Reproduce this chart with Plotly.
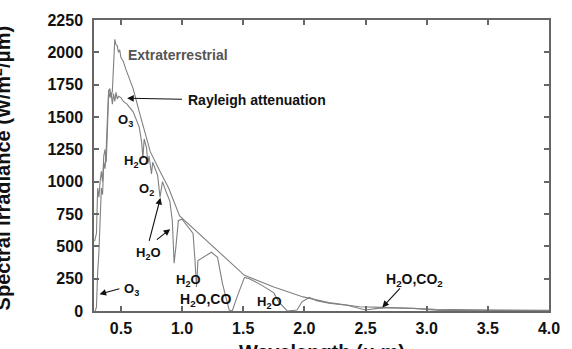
import plotly.graph_objects as go

# ---- data ----
ext_wl = [0.285, 0.30, 0.31, 0.32, 0.33, 0.34, 0.35, 0.36, 0.37, 0.38, 0.39, 0.40, 0.41, 0.42,
          0.43, 0.44, 0.45, 0.46, 0.47, 0.48, 0.49, 0.50, 0.52, 0.54, 0.56, 0.58, 0.60, 0.65,
          0.70, 0.74, 0.82, 0.89, 0.98, 1.13, 1.29, 1.51, 1.75, 1.99, 2.2, 2.45, 2.64, 3.07,
          3.5, 4.0]
ext_val = [540, 600, 950, 880, 1000, 1080, 1000, 1200, 1250, 1150, 1400, 1700, 1720, 1650,
           1700, 1950, 2100, 2060, 2050, 2000, 2020, 1960, 1930, 1870, 1820, 1780, 1720, 1540,
           1360, 1232, 1079, 951, 735, 607, 467, 276, 186, 109, 65, 33, 28, 13,
           8, 5]

gnd_wl = [0.29, 0.30, 0.31, 0.32, 0.33, 0.34, 0.35, 0.36, 0.37, 0.38, 0.39, 0.40, 0.41, 0.42,
          0.43, 0.44, 0.45, 0.46, 0.47, 0.48, 0.50, 0.52, 0.55, 0.58, 0.60, 0.63, 0.65, 0.67,
          0.68, 0.69, 0.71, 0.72, 0.73, 0.75, 0.76, 0.78, 0.80, 0.82, 0.84, 0.87, 0.90, 0.92,
          0.935, 0.95, 0.97, 1.00, 1.05, 1.09, 1.105, 1.118, 1.13, 1.17, 1.24, 1.29, 1.33,
          1.385, 1.41, 1.45, 1.51, 1.55, 1.65, 1.75, 1.79, 1.86, 1.94, 1.98, 2.04, 2.1, 2.2,
          2.35, 2.45, 2.5, 2.6, 2.7, 2.9, 3.0, 3.1, 3.5, 4.0]
gnd_val = [0, 30, 300, 450, 700, 950, 900, 1150, 1100, 1250, 1500, 1710, 1650, 1690,
           1600, 1680, 1620, 1690, 1640, 1660, 1650, 1620, 1600, 1560, 1540, 1470, 1420, 1300,
           1180, 1330, 1260, 1140, 1200, 1060, 1150, 1100, 1050, 880, 1000, 920, 850, 700,
           370, 500, 700, 710, 650, 600, 400, 186, 390, 415, 454, 415, 214,
           8, 0, 109, 260, 250, 200, 140, 71, 0, 8, 71, 105, 80, 60,
           45, 20, 8, 20, 25, 20, 12, 5, 5, 2]

x_ticks = [0.5, 1.0, 1.5, 2.0, 2.5, 3.0, 3.5, 4.0]
y_ticks = [0, 250, 500, 750, 1000, 1250, 1500, 1750, 2000, 2250]

# text labels: (text, x, y, colour)
labels = [
    ("Extraterrestrial", 0.544, 1982, "#555555"),
    ("Rayleigh attenuation", 1.036, 1632, "#111111"),
    ("O<sub>3</sub>", 0.463, 1470, "#111111"),
    ("H<sub>2</sub>O", 0.511, 1155, "#111111"),
    ("O<sub>2</sub>", 0.632, 940, "#111111"),
    ("H<sub>2</sub>O", 0.607, 445, "#111111"),
    ("H<sub>2</sub>O", 0.93, 238, "#111111"),
    ("H<sub>2</sub>O,CO", 0.97, 85, "#111111"),
    ("H<sub>2</sub>O", 1.593, 62, "#111111"),
    ("O<sub>3</sub>", 0.51, 168, "#111111"),
    ("H<sub>2</sub>O,CO<sub>2</sub>", 2.647, 238, "#111111"),
]
# arrows: (tail_x, tail_y, head_x, head_y)
arrows = [
    (1.012, 1637, 0.551, 1645),
    (0.728, 530, 0.823, 875),
    (0.782, 543, 0.903, 633),
    (0.50, 176, 0.325, 130),
    (2.793, 186, 2.637, 28),
]

FONT = "Liberation Sans, Arial, sans-serif"

fig = go.Figure()
fig.add_trace(go.Scatter(x=ext_wl, y=ext_val, mode="lines",
                         line=dict(color="#808080", width=1.1), showlegend=False))
fig.add_trace(go.Scatter(x=gnd_wl, y=gnd_val, mode="lines",
                         line=dict(color="#808080", width=1.1), showlegend=False))

ann = []
for t, x, y, c in labels:
    ann.append(dict(text=t, x=x, y=y, xref="x", yref="y", xanchor="left", yanchor="middle",
                    showarrow=False, font=dict(family=FONT, size=14 if len(t) > 14 else 13,
                                               color=c, weight="bold")))
for tx, ty, hx, hy in arrows:
    ann.append(dict(text="", x=hx, y=hy, ax=tx, ay=ty, xref="x", yref="y", axref="x", ayref="y",
                    showarrow=True, arrowhead=2, arrowsize=1.2, arrowwidth=1.1, arrowcolor="#111111"))
ann.append(dict(text="Wavelength (\u03bc m)", x=0.5, y=0, xref="paper", yref="paper",
                xanchor="center", yanchor="top", yshift=-28, showarrow=False,
                font=dict(family=FONT, size=20, color="#111111", weight="bold")))
ann.append(dict(text="Spectral irradiance (W/m<sup>2</sup>/\u03bcm)", x=0, y=0.49, xref="paper", yref="paper",
                xanchor="center", yanchor="middle", xshift=-93, textangle=-90, showarrow=False,
                font=dict(family=FONT, size=20, color="#111111", weight="bold")))

axis_common = dict(showline=True, linecolor="#666666", linewidth=1.5, mirror="ticks",
                   ticks="inside", ticklen=5, tickwidth=1.5, tickcolor="#666666",
                   showgrid=False, zeroline=False,
                   tickfont=dict(family=FONT, size=16, color="#111111", weight="bold"))

fig.update_layout(
    width=572, height=349,
    margin=dict(l=94, r=16, t=17, b=38),
    paper_bgcolor="white", plot_bgcolor="white",
    xaxis=dict(range=[0.28, 4.0], tickvals=x_ticks, ticktext=[f"{v:.1f}" for v in x_ticks],
               ticklabelstandoff=2, **axis_common),
    yaxis=dict(range=[0, 2250], tickvals=y_ticks, ticklabelstandoff=6, **axis_common),
    annotations=ann,
)

fig.write_html("out.html")
